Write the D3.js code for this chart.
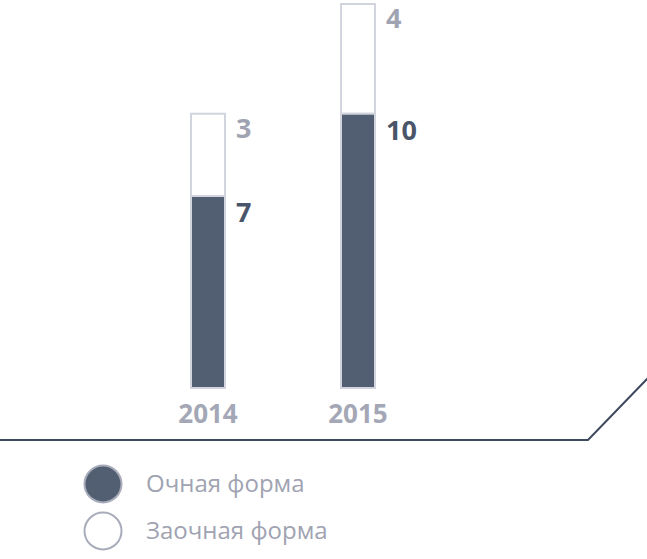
<!DOCTYPE html>
<meta charset="utf-8">
<style>
body { margin: 0; background: #fff; }
svg { display: block; font-family: "Open Sans", sans-serif; }
.val { font-weight: bold; font-size: 27px; }
.year { font-weight: bold; font-size: 26px; fill: #a4a7b5; }
.leg { font-size: 24px; fill: #a0a3b1; }
</style>
<script src="https://d3js.org/d3.v7.min.js"></script>
<svg width="647" height="559"></svg>
<script>

var years = ["2014", "2015"];
var fullTime = [7, 10];     // Очная форма
var partTime = [3, 4];      // Заочная форма
var seriesNames = ["Очная форма", "Заочная форма"];

var svg = d3.select("svg");

var dark = "#525f73",
    edge = "#d3d5de",
    lightText = "#a0a4b2",
    darkText = "#4a5569";

var x = d3.scaleBand()
    .domain(years)
    .range([116, 450])
    .paddingInner(0.7733)
    .paddingOuter(0.5);

var y = d3.scaleLinear()
    .domain([0, 14])
    .range([388, 4]);

var rows = years.map(function(yr, i) {
    return {year: yr, full: fullTime[i], part: partTime[i]};
});

var g = svg.append("g");

var bar = g.selectAll(".bar")
    .data(rows)
    .enter().append("g")
    .attr("class", "bar");

// заочная (top, white)
bar.append("rect")
    .attr("x", function(d) { return x(d.year); })
    .attr("width", x.bandwidth())
    .attr("y", function(d) { return y(d.full + d.part); })
    .attr("height", function(d) { return y(d.full) - y(d.full + d.part); })
    .attr("fill", "#fff")
    .attr("stroke", edge)
    .attr("stroke-width", 2);

// очная (bottom, dark)
bar.append("rect")
    .attr("x", function(d) { return x(d.year); })
    .attr("width", x.bandwidth())
    .attr("y", function(d) { return y(d.full); })
    .attr("height", function(d) { return y(0) - y(d.full); })
    .attr("fill", dark)
    .attr("stroke", edge)
    .attr("stroke-width", 2);

bar.append("text")
    .attr("class", "val")
    .attr("x", function(d) { return x(d.year) + x.bandwidth() + 11; })
    .attr("y", function(d) { return y(d.full + d.part) + 24; })
    .attr("fill", lightText)
    .text(function(d) { return d.part; });

bar.append("text")
    .attr("class", "val")
    .attr("x", function(d) { return x(d.year) + x.bandwidth() + 11; })
    .attr("y", function(d) { return y(d.full) + 26; })
    .attr("fill", darkText)
    .text(function(d) { return d.full; });

bar.append("text")
    .attr("class", "year")
    .attr("x", function(d) { return x(d.year) + x.bandwidth() / 2; })
    .attr("y", 423)
    .attr("text-anchor", "middle")
    .text(function(d) { return d.year; });

// base line with diagonal
svg.append("path")
    .attr("d", d3.line()([[0, 440], [588, 440], [648, 378]]))
    .attr("fill", "none")
    .attr("stroke", "#3d4a5d")
    .attr("stroke-width", 2);

// legend
var leg = svg.append("g")
    .selectAll("g")
    .data(seriesNames)
    .enter().append("g")
    .attr("transform", function(d, i) { return "translate(103," + (484 + i * 47) + ")"; });

leg.append("circle")
    .attr("r", 18.5)
    .attr("fill", function(d, i) { return i == 0 ? dark : "#fff"; })
    .attr("stroke", "#a9acba")
    .attr("stroke-width", 2);

leg.append("text")
    .attr("class", "leg")
    .attr("x", 43)
    .attr("y", 8)
    .text(function(d) { return d; });

</script>
